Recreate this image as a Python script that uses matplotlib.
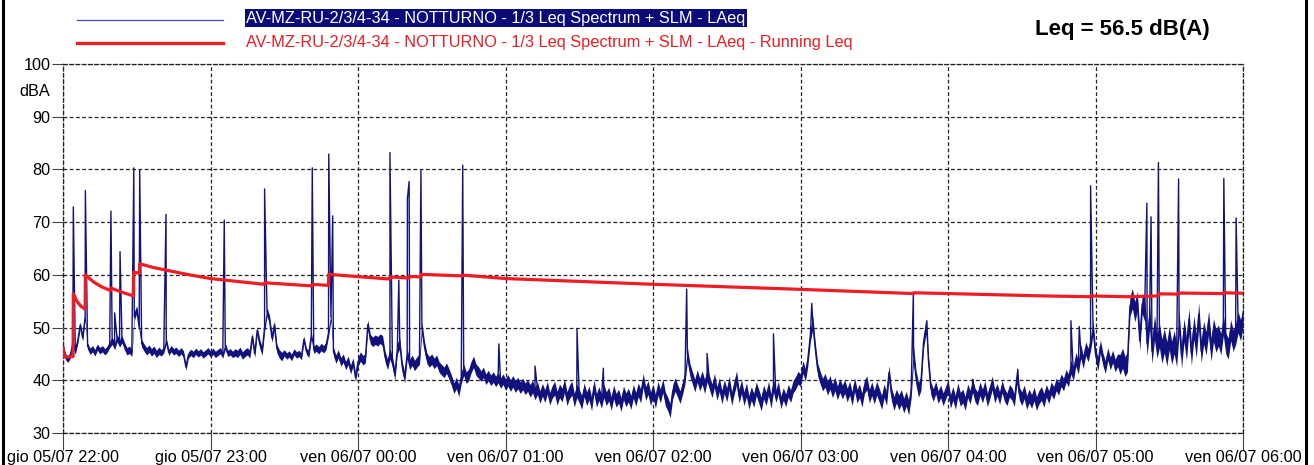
import numpy as np
import matplotlib
matplotlib.use('Agg')
import matplotlib.pyplot as plt
from matplotlib.lines import Line2D

plt.rcParams['font.family'] = ['Liberation Sans', 'DejaVu Sans']

# time axis: minutes from 22:00
HOUR_TICKS = [0, 60, 120, 180, 240, 300, 360, 420, 480]
HOUR_LABELS = ['gio 05/07 22:00', 'gio 05/07 23:00', 'ven 06/07 00:00',
               'ven 06/07 01:00', 'ven 06/07 02:00', 'ven 06/07 03:00',
               'ven 06/07 04:00', 'ven 06/07 05:00', 'ven 06/07 06:00']
DB_TICKS = [30, 40, 50, 60, 70, 80, 90, 100]

# LAeq, one value per minute (dBA)
LAEQ_1MIN = [
    46.5, 44.5, 44.0, 44.8, 47.0, 45.5, 47.5, 50.5, 48.0, 52.0,
    46.5, 45.5, 46.0, 45.2, 46.3, 45.6, 46.0, 45.4, 45.9, 46.8,
    47.5, 46.5, 48.0, 47.0, 47.8, 46.5, 45.5, 45.8, 45.2, 52.0,
    53.5, 50.0, 47.0, 46.2, 45.5, 46.0, 45.3, 45.8, 45.0, 45.6,
    45.2, 45.8, 47.5, 45.3, 46.0, 45.4, 45.7, 45.1, 45.6, 45.0,
    42.5, 44.8, 45.3, 44.9, 45.5, 45.0, 45.4, 44.8, 45.2, 45.6,
    45.0, 45.5, 44.9, 45.3, 45.6, 44.8, 46.5, 45.1, 45.4, 44.9,
    45.3, 45.0, 45.6, 44.7, 45.2, 45.5, 44.9, 48.3, 45.0, 49.5,
    47.0, 45.5, 50.0, 53.0, 51.5, 48.0, 50.5, 46.0, 45.0, 44.5,
    45.2, 44.6, 45.0, 44.3, 45.4, 44.8, 45.1, 44.5, 47.8, 45.5,
    45.0, 48.5, 45.8, 46.2, 45.7, 46.3, 45.9, 46.5, 49.0, 52.0,
    45.5, 44.0, 45.0, 43.5, 44.2, 42.8, 43.8, 42.0, 43.5, 40.5,
    43.5, 44.5, 43.8, 44.2, 50.6, 47.8, 47.3, 47.7, 47.4, 47.9,
    47.5, 44.5, 43.0, 45.0, 43.5, 41.0, 46.0, 47.0, 42.5, 40.5,
    45.0, 43.0, 43.8, 42.8, 43.5, 44.0, 50.0, 46.5, 44.2, 43.5,
    44.0, 43.2, 43.8, 42.5, 42.0, 41.5, 42.3, 41.2, 40.0, 38.5,
    39.5, 38.0, 40.5, 42.0, 40.5, 41.0, 42.5, 43.5, 42.0, 41.5,
    40.8, 41.5, 40.2, 40.9, 40.0, 40.6, 39.8, 40.5, 39.5, 40.2,
    39.2, 40.0, 39.0, 39.8, 38.8, 39.5, 38.6, 39.3, 38.4, 39.0,
    38.0, 38.8, 37.5, 38.5, 36.8, 38.2, 37.0, 38.6, 36.5, 37.8,
    38.5, 36.6, 38.0, 37.2, 39.0, 36.5, 37.8, 38.5, 36.2, 38.0,
    37.0, 35.8, 38.2, 36.5, 37.6, 35.5, 38.8, 36.2, 37.5, 36.0,
    38.0, 36.5, 37.4, 35.6, 37.8, 36.2, 37.0, 35.4, 37.6, 36.3,
    37.2, 35.8, 37.9, 36.4, 38.2, 37.0, 40.0, 37.5, 38.6, 36.5,
    38.0, 36.0, 38.5, 37.0, 39.0, 36.5, 35.5, 34.2, 37.8, 39.2,
    38.0, 36.8, 38.5, 40.5, 45.0, 42.0, 40.5, 39.0, 40.8, 39.2,
    40.5, 38.8, 41.0, 39.5, 38.0, 40.0, 37.5, 39.2, 36.8, 38.8,
    37.2, 39.5, 36.5, 38.6, 40.5, 37.0, 38.8, 36.5, 38.2, 35.8,
    37.5, 36.2, 38.4, 37.0, 35.5, 37.8, 36.5, 38.5, 36.0, 39.0,
    37.0, 38.6, 35.8, 37.4, 36.2, 38.0, 37.0, 38.8, 39.5, 40.5,
    40.0, 42.5, 41.0, 44.0, 48.5, 51.0, 46.0, 42.0, 40.5, 39.2,
    40.0, 38.5, 39.6, 38.0, 39.3, 37.6, 39.0, 37.8, 38.8, 37.2,
    38.5, 36.5, 39.2, 37.0, 38.0, 36.2, 38.8, 39.5, 37.0, 38.4,
    36.8, 38.5, 37.2, 35.8, 38.0, 36.5, 41.5, 37.4, 35.6, 37.0,
    35.8, 36.8, 35.2, 36.5, 34.8, 38.0, 45.0, 40.5, 38.2, 39.5,
    47.0, 50.0, 44.0, 38.5, 37.2, 38.6, 36.8, 37.9, 36.4, 37.6,
    38.8, 36.0, 37.5, 35.8, 38.2, 36.4, 37.0, 35.6, 38.0, 36.8,
    39.0, 37.2, 36.5, 38.4, 37.0, 38.6, 36.3, 37.8, 39.5, 37.0,
    38.2, 36.6, 38.8, 37.2, 36.4, 38.0, 37.4, 36.2, 40.5, 37.5,
    36.5, 37.8, 35.8, 37.0, 36.0, 37.4, 35.6, 36.8, 37.5, 36.2,
    38.0, 36.8, 38.5, 37.6, 39.2, 38.4, 40.0, 39.2, 40.8, 40.0,
    42.5, 41.2, 44.0, 42.5, 45.5, 43.5, 46.0, 44.8, 47.0, 50.0,
    45.0, 43.0, 46.5, 44.0, 42.5, 45.0, 43.2, 44.5, 42.8, 43.8,
    43.0, 44.2, 42.6, 43.5, 54.0, 55.5, 53.0, 55.0, 47.5, 54.5,
    53.5, 47.0, 52.0, 45.5, 50.0, 46.5, 48.5, 45.5, 47.5, 45.0,
    48.0, 45.2, 47.2, 44.8, 51.0, 44.5, 49.5, 46.0, 51.5, 45.0,
    50.0, 46.5, 52.5, 45.5, 49.0, 47.0, 51.0, 45.8, 49.5, 47.5,
    48.5, 46.8, 50.5, 47.0, 46.0, 49.5, 47.5, 48.8, 51.0, 49.5,
    52.0,
]

# half-width of the within-minute fluctuation, per 10-minute block (dB)
SPREAD_10MIN = [
    0.6, 0.6, 0.7, 0.7, 0.6, 0.6, 0.6, 0.7, 0.8, 0.6, 0.7, 0.8,
    0.9, 1.0, 1.0, 1.0, 1.1, 1.0, 1.1, 1.2, 1.3, 1.3, 1.3, 1.3,
    1.3, 1.2, 1.3, 1.3, 1.3, 1.2, 1.2, 1.3, 1.3, 1.3, 1.4, 1.2,
    1.3, 1.3, 1.2, 1.3, 1.2, 1.3, 1.2, 1.9, 2.3, 2.2, 2.2, 2.0,
]

# short noise events (minute, peak dBA)
EVENT_MIN = [4.2, 9.1, 19.5, 21.0, 23.2, 28.8, 31.2, 41.9, 65.6, 82.0,
             101.4, 108.1, 109.7, 133.0, 136.6, 140.1, 140.8, 145.6, 162.6,
             177.3, 192.0, 209.1, 219.8, 253.7, 262.0, 289.0, 304.6, 345.9,
             351.4, 370.0, 388.4, 410.0, 413.4, 418.0, 440.9, 442.6, 445.6,
             453.8, 472.2, 477.2]
EVENT_DB = [72.9, 76.0, 72.1, 52.8, 64.4, 80.3, 79.9, 71.5, 70.4, 76.3,
            80.3, 82.9, 71.2, 83.2, 59.0, 74.5, 77.7, 79.8, 80.8,
            46.9, 42.7, 49.7, 42.3, 57.3, 45.1, 48.8, 54.6, 56.4,
            51.3, 40.2, 42.1, 51.3, 50.2, 76.9, 73.6, 71.0, 81.3,
            78.2, 78.3, 70.8]

# running Leq (minute, dBA)
LEQ_TOTAL = 56.5
RUNNING_MIN = [0.0, 0.6, 4.1, 4.2, 5.8, 7.4, 9.0, 9.1, 12.3, 15.6, 19.4, 19.5,
               24.0, 28.7, 28.8, 31.1, 31.2, 36.7, 41.9, 50.3, 60.0, 82.0,
               82.1, 101.4, 101.5, 108.0, 108.1, 119.0, 133.0, 133.1, 140.8,
               140.9, 145.6, 145.7, 162.6, 162.7, 180.0, 240.8, 300.0, 345.9,
               346.0, 360.0, 399.5, 418.0, 418.1, 433.0, 445.5, 445.6, 453.8,
               453.9, 472.2, 472.3, 480.0]
RUNNING_DB = [46.1, 44.4, 44.5, 56.4, 54.9, 54.0, 53.5, 60.0, 58.7, 57.75,
              57.0, 57.5, 56.7, 56.0, 60.5, 60.3, 62.1, 61.4, 60.9, 60.1,
              59.3, 58.2, 58.5, 57.9, 58.2, 58.0, 60.1, 59.7, 59.2, 59.6,
              59.4, 59.7, 59.6, 60.1, 59.8, 59.95, 59.3, 58.2, 57.25, 56.45,
              56.6, 56.45, 56.0, 55.85, 56.0, 55.85, 56.0, 56.4, 56.35,
              56.55, 56.45, 56.6, LEQ_TOTAL]

BLUE = '#12127f'
RED = '#ee1c24'

minutes = np.arange(len(LAEQ_1MIN), dtype=float)
laeq = np.asarray(LAEQ_1MIN)
spread = np.append(np.repeat(SPREAD_10MIN, 10), SPREAD_10MIN[-1])

t = np.concatenate([minutes, EVENT_MIN])
v = np.concatenate([laeq, EVENT_DB])
order = np.argsort(t, kind='stable')

fig = plt.figure(figsize=(13.14, 4.65), dpi=100)
ax = fig.add_axes([63 / 1314, 1 - 433 / 465, 1180 / 1314, 369 / 465])

ax.fill_between(minutes, laeq - spread, laeq + spread, color=BLUE, lw=0, zorder=3)
ax.plot(t[order], v[order], color=BLUE, lw=1.0, zorder=3)
ax.plot(RUNNING_MIN, RUNNING_DB, color=RED, lw=2.3, zorder=4)

ax.set_xlim(0, 480)
ax.set_ylim(30, 100)
ax.set_xticks(HOUR_TICKS)
ax.set_xticklabels(HOUR_LABELS)
ax.set_yticks(DB_TICKS)
ax.grid(True, color='#222222', ls=(0, (3, 2)), lw=0.9)
for sp in ax.spines.values():
    sp.set_linestyle((0, (3, 2)))
    sp.set_color('#222222')
    sp.set_linewidth(0.9)
ax.tick_params(axis='y', length=8, width=0.8, color='#444444', labelsize=11.7, pad=1)
ax.tick_params(axis='x', length=12, width=0.8, color='#444444', labelsize=11.7, pad=0)
ax.text(-0.011, 0.925, 'dBA', transform=ax.transAxes, ha='right', va='center',
        fontsize=11.7)

# legend, drawn in figure pixels
W, H = 1314, 465
fig.add_artist(Line2D([77 / W, 223 / W], [1 - 20 / H] * 2, color='#4a4aa8', lw=0.9))
fig.add_artist(Line2D([77 / W, 223 / W], [1 - 43 / H] * 2, color=RED, lw=2.4))
fig.text(246 / W, 1 - 18 / H, 'AV-MZ-RU-2/3/4-34 - NOTTURNO - 1/3 Leq Spectrum + SLM - LAeq',
         color='white', fontsize=11.8, va='center', ha='left',
         bbox=dict(facecolor='#0a0a78', edgecolor='none', pad=1.0))
fig.text(246 / W, 1 - 42 / H,
         'AV-MZ-RU-2/3/4-34 - NOTTURNO - 1/3 Leq Spectrum + SLM - LAeq - Running Leq',
         color=RED, fontsize=11.8, va='center', ha='left')
fig.text(1035 / W, 1 - 29 / H, f'Leq = {LEQ_TOTAL:.1f} dB(A)', fontsize=16,
         fontweight='bold', va='center', ha='left')

# side borders of the report frame
fig.add_artist(Line2D([3 / W, 3 / W], [0, 1], color='black', lw=2.2))
fig.add_artist(Line2D([1306 / W, 1306 / W], [0, 1], color='black', lw=2.2))

fig.savefig('out.png', dpi=100)
